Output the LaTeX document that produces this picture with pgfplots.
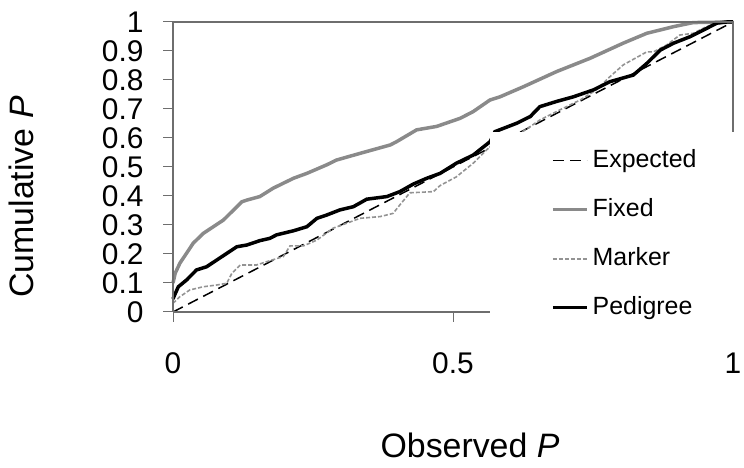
\documentclass[border=0pt]{standalone}
\usepackage{pgfplots}
\pgfplotsset{compat=1.18}
\usepackage{fontspec}
\setmainfont{Liberation Sans}
\definecolor{fixedgray}{HTML}{8A8A8A}
\definecolor{markergray}{HTML}{939393}
\definecolor{axisgray}{HTML}{6E6E6E}

\begin{document}
\begin{tikzpicture}[x=1bp,y=1bp]
\path[use as bounding box] (0,0) rectangle (744,468);
\begin{axis}[
  at={(173bp,156bp)}, anchor=south west,
  width=560bp, height=290bp, scale only axis,
  xmin=0, xmax=1, ymin=0, ymax=1,
  axis line style={draw=none},
  xtick={0,0.5,1}, xticklabels={0,0.5,1},
  ytick={0,0.1,0.2,0.3,0.4,0.5,0.6,0.7,0.8,0.9,1},
  yticklabels={0,0.1,0.2,0.3,0.4,0.5,0.6,0.7,0.8,0.9,1},
  xtick pos=lower, ytick pos=left,
  tick align=outside,
  major tick length=10bp,
  tick style={axisgray, line width=1bp},
  ticklabel style={font=\fontsize{30}{30}\selectfont},
  xticklabel style={yshift=-27bp},
  yticklabel style={xshift=-16bp},
  clip=false,
  legend cell align=left,
  legend image code/.code={\draw[#1] (0bp,0bp) -- (34bp,0bp);},
  legend style={at={(axis cs:0.675,0.562)}, anchor=north west,
    draw=none, fill=none, inner sep=0pt, row sep=26bp, column sep=4bp,
    font=\fontsize{25}{25}\selectfont,
    nodes={inner sep=0pt, text height=18bp, text depth=5bp}},
]
% Expected
\addplot[black, line width=1.5bp, dash pattern=on 11bp off 6bp] coordinates {(0,0) (1,1)};
\addlegendentry{Expected}
% Fixed
\addplot[fixedgray, line width=3.5bp] coordinates {
  (0,0.10) (0.004,0.134) (0.0125,0.169) (0.024,0.202) (0.036,0.237)
  (0.054,0.271) (0.072,0.294) (0.090,0.317) (0.102,0.340) (0.123,0.380)
  (0.132,0.386) (0.155,0.398) (0.179,0.427) (0.215,0.461) (0.239,0.478)
  (0.274,0.507) (0.292,0.524) (0.334,0.547) (0.388,0.576) (0.399,0.587)
  (0.435,0.628) (0.471,0.640) (0.513,0.668) (0.536,0.691) (0.566,0.731)
  (0.584,0.742) (0.626,0.777) (0.685,0.829) (0.745,0.875) (0.804,0.927)
  (0.846,0.961) (0.894,0.984) (0.929,0.998) (1,1)
};
\addlegendentry{Fixed}
% Marker
\addplot[markergray, line width=1.6bp, dash pattern=on 4bp off 2bp] coordinates {
  (0,0.03) (0.0125,0.053) (0.030,0.076) (0.054,0.087) (0.078,0.093)
  (0.096,0.099) (0.105,0.133) (0.120,0.162) (0.149,0.162) (0.173,0.177)
  (0.197,0.191) (0.209,0.228) (0.233,0.228) (0.257,0.248) (0.286,0.289)
  (0.310,0.306) (0.334,0.323) (0.370,0.329) (0.393,0.340) (0.405,0.369)
  (0.423,0.411) (0.465,0.415) (0.477,0.436) (0.506,0.466) (0.536,0.513)
  (0.566,0.570) (0.620,0.616) (0.655,0.662) (0.691,0.697) (0.727,0.731)
  (0.756,0.766) (0.780,0.811) (0.804,0.852) (0.846,0.897) (0.858,0.897)
  (0.881,0.920) (0.905,0.955) (0.929,0.961) (0.953,0.984) (0.982,0.998) (1,1)
};
\addlegendentry{Marker}
% Pedigree
\addplot[black, line width=3.5bp] coordinates {
  (0,0.045) (0.003,0.059) (0.0095,0.087) (0.024,0.110) (0.042,0.145)
  (0.060,0.156) (0.078,0.179) (0.096,0.202) (0.114,0.225) (0.132,0.231)
  (0.155,0.246) (0.173,0.254) (0.185,0.266) (0.215,0.280) (0.239,0.294)
  (0.257,0.323) (0.274,0.334) (0.298,0.352) (0.322,0.363) (0.346,0.389)
  (0.382,0.398) (0.405,0.415) (0.429,0.441) (0.453,0.461) (0.477,0.478)
  (0.506,0.513) (0.536,0.541) (0.566,0.587) (0.575,0.622) (0.614,0.651)
  (0.638,0.674) (0.655,0.708) (0.685,0.726) (0.715,0.742) (0.751,0.766)
  (0.780,0.794) (0.822,0.817) (0.846,0.857) (0.870,0.903) (0.894,0.927)
  (0.923,0.949) (0.953,0.978) (0.971,0.996) (0.989,1) (1,1)
};
\addlegendentry{Pedigree}
% white legend panel hides the lower right of the plot
\fill[white] (axis cs:0.566,-0.045) rectangle (axis cs:1.03,0.62);
\draw[axisgray, line width=1.2bp] (axis cs:0,0) -- (axis cs:0,1) -- (axis cs:1,1) -- (axis cs:1,0.62);
\draw[axisgray, line width=1.2bp] (axis cs:0,0) -- (axis cs:0.566,0);
\end{axis}
\node[rotate=90, anchor=base, font=\fontsize{34}{34}\selectfont] at (33,271) {Cumulative \textit{P}};
\node[anchor=base, font=\fontsize{34}{34}\selectfont] at (470,10) {Observed \textit{P}};
\end{tikzpicture}
\end{document}
